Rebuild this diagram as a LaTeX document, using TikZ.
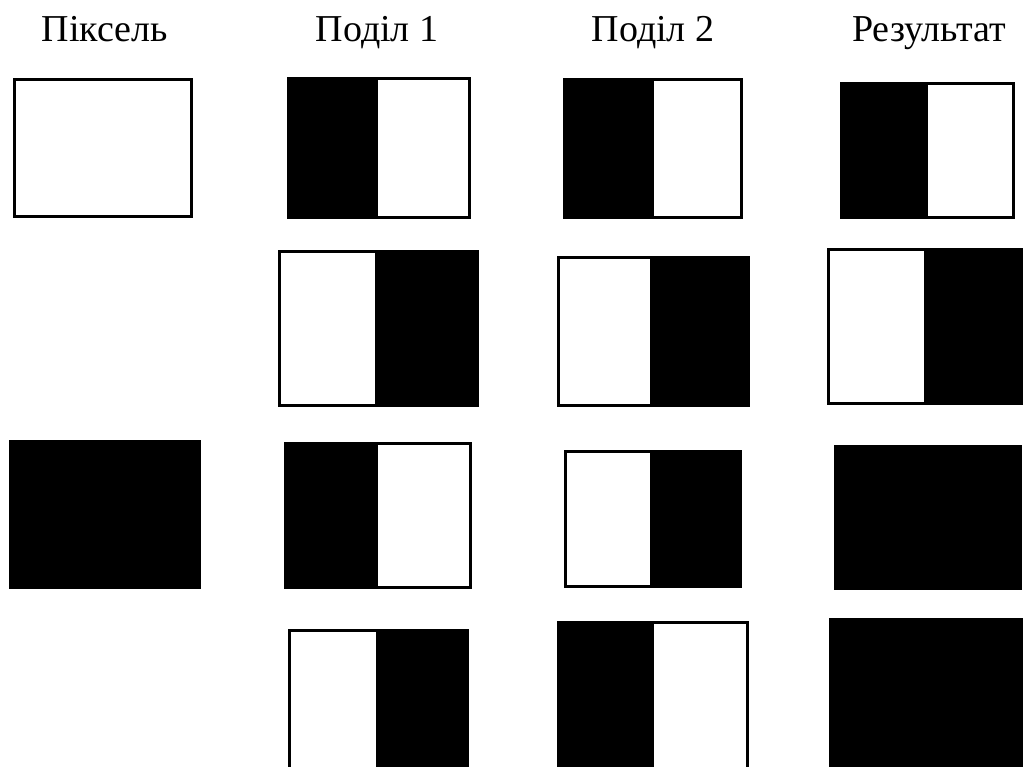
\documentclass[tikz,border=0pt]{standalone}
\usepackage{fontspec}
\setmainfont{Liberation Serif}
\begin{document}
\begin{tikzpicture}[x=1pt,y=-1pt,
  edge/.style={draw=black,line width=3pt},
  blk/.style={fill=black},
  title/.style={font=\fontsize{38}{44}\selectfont,anchor=base,inner sep=0pt}]
\useasboundingbox (0,0) rectangle (1023,767);
\clip (0,0) rectangle (1023,767);
% titles
\node[title] (t1) at (105,42) {Піксель};
\node[title] (t2) at (377,42) {Поділ 1};
\node[title] (t3) at (653,42) {Поділ 2};
\node[title] (t4) at (929,42) {Результат};
% Pixel column
\draw[edge] (14.5,79.5) rectangle (191.5,216.5);
\fill[blk] (9,440) rectangle (201,589);
% Podil 1
\fill[blk] (287,77) rectangle (378,219);
\draw[edge] (288.5,78.5) rectangle (469.5,217.5);
\fill[blk] (375,250) rectangle (479,407);
\draw[edge] (279.5,251.5) rectangle (477.5,405.5);
\fill[blk] (284,442) rectangle (378,589);
\draw[edge] (285.5,443.5) rectangle (470.5,587.5);
\fill[blk] (376,629) rectangle (469,780);
\draw[edge] (289.5,630.5) rectangle (467.5,780);
% Podil 2
\fill[blk] (563,78) rectangle (654,219);
\draw[edge] (564.5,79.5) rectangle (741.5,217.5);
\fill[blk] (650,256) rectangle (750,407);
\draw[edge] (558.5,257.5) rectangle (748.5,405.5);
\fill[blk] (650,450) rectangle (742,588);
\draw[edge] (565.5,451.5) rectangle (740.5,586.5);
\fill[blk] (557,621) rectangle (654,780);
\draw[edge] (558.5,622.5) rectangle (747.5,780);
% Result
\fill[blk] (840,82) rectangle (928,219);
\draw[edge] (841.5,83.5) rectangle (1013.5,217.5);
\fill[blk] (924,248) rectangle (1030,405);
\draw[edge] (828.5,249.5) rectangle (1030,403.5);
\fill[blk] (834,445) rectangle (1022,590);
\fill[blk] (829,618) rectangle (1030,780);
\end{tikzpicture}
\end{document}
